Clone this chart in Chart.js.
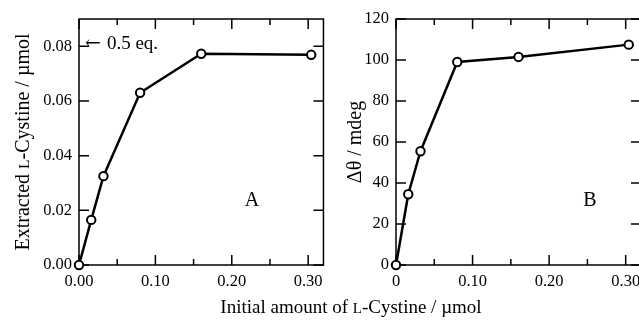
<!DOCTYPE html>
<html>
<head>
<meta charset="utf-8">
<script src="https://cdn.jsdelivr.net/npm/chart.js@4"></script>
<style>
  html, body { margin: 0; padding: 0; background: #fff; overflow: hidden; }
  body { width: 639px; height: 320px; position: relative; }
  .panel { position: absolute; top: 0; height: 320px; }
  #panelA { left: 0; width: 330px; }
  #panelB { left: 330px; width: 320px; }
  #xTitle {
    position: absolute; left: 0; width: 702px; top: 296px;
    text-align: center; font: 19px "Liberation Serif", serif; color: #000; white-space: nowrap;
  }
  .sc { font-size: 15px; }
</style>
</head>
<body>
<div class="panel" id="panelA"><canvas id="chartA"></canvas></div>
<div class="panel" id="panelB"><canvas id="chartB"></canvas></div>
<div id="xTitle">Initial amount of <span class="sc">L</span>-Cystine / µmol</div>
<script>
// shared x axis
const X_MAX = 0.32;
const X_TICKS = [0, 0.1, 0.2, 0.3];
const X_MINOR = [0.05, 0.15, 0.25];
const A_X_LABELS = ["0.00", "0.10", "0.20", "0.30"];
const B_X_LABELS = ["0", "0.10", "0.20", "0.30"];

// panel A - extracted L-cystine
const A_X = [0, 0.016, 0.032, 0.08, 0.16, 0.304];
const A_Y = [0, 0.0165, 0.0325, 0.063, 0.0773, 0.0769];
const A_Y_MAX = 0.09;
const A_Y_TICKS = [0, 0.02, 0.04, 0.06, 0.08];
const A_Y_LABELS = ["0.00", "0.02", "0.04", "0.06", "0.08"];

// panel B - CD signal
const B_X = [0, 0.016, 0.032, 0.08, 0.16, 0.304];
const B_Y = [0, 34.5, 55.5, 99, 101.5, 107.5];
const B_Y_MAX = 120;
const B_Y_TICKS = [0, 20, 40, 60, 80, 100, 120];
const B_Y_LABELS = ["0", "20", "40", "60", "80", "100", "120"];

const SERIF = '"Liberation Serif", "Times New Roman", serif';

function drawRotated(ctx, pieces, bx, cy) {
  ctx.save();
  let total = 0;
  pieces.forEach(p => {
    ctx.font = p.size + 'px ' + SERIF;
    p.w = ctx.measureText(p.text).width;
    total += p.w;
  });
  ctx.translate(bx, cy);
  ctx.rotate(-Math.PI / 2);
  ctx.fillStyle = '#000';
  ctx.textBaseline = 'alphabetic';
  ctx.textAlign = 'left';
  let u = -total / 2;
  pieces.forEach(p => {
    ctx.font = p.size + 'px ' + SERIF;
    ctx.fillText(p.text, u, 0);
    u += p.w;
  });
  ctx.restore();
}

const framePlugin = {
  id: 'frame',
  beforeDatasetsDraw(chart) {
    const { ctx, chartArea: a, scales: { x, y } } = chart;
    const opts = chart.options.plugins.frame;
    ctx.save();
    ctx.strokeStyle = '#000';
    ctx.lineWidth = 1.5;
    ctx.strokeRect(a.left, a.top, a.right - a.left, a.bottom - a.top);
    ctx.beginPath();
    X_TICKS.forEach(v => {
      const px = x.getPixelForValue(v);
      ctx.moveTo(px, a.bottom); ctx.lineTo(px, a.bottom - 10);
      ctx.moveTo(px, a.top); ctx.lineTo(px, a.top + 10);
    });
    X_MINOR.forEach(v => {
      const px = x.getPixelForValue(v);
      ctx.moveTo(px, a.bottom); ctx.lineTo(px, a.bottom - 6);
      ctx.moveTo(px, a.top); ctx.lineTo(px, a.top + 6);
    });
    opts.yTicks.forEach(v => {
      const py = y.getPixelForValue(v);
      ctx.moveTo(a.left, py); ctx.lineTo(a.left + 10, py);
      ctx.moveTo(a.right, py); ctx.lineTo(a.right - 10, py);
    });
    ctx.stroke();
    ctx.restore();
  },
  afterDraw(chart) {
    const { ctx, chartArea: a, scales: { y } } = chart;
    const opts = chart.options.plugins.frame;
    drawRotated(ctx, opts.title, opts.titleX, (a.top + a.bottom) / 2);
    ctx.save();
    ctx.fillStyle = '#000';
    ctx.font = '20px ' + SERIF;
    ctx.textAlign = 'center';
    ctx.textBaseline = 'alphabetic';
    ctx.fillText(opts.letter, opts.letterX, 206);
    if (opts.note) {
      const ny = y.getPixelForValue(0.08) - 2;
      ctx.textAlign = 'left';
      ctx.textBaseline = 'middle';
      ctx.font = '19px "DejaVu Serif", serif';
      ctx.fillText('←', a.left + 6, ny);
      const aw = ctx.measureText('←').width;
      ctx.font = '19px ' + SERIF;
      ctx.fillText(opts.note, a.left + 12 + aw, ny);
    }
    ctx.restore();
  }
};

function makeChart(id, xs, ys, yMax, yTicks, yLabels, xLabels, axisWidth, padRight, frame) {
  const tickFont = { family: SERIF, size: 16.5 };
  return new Chart(document.getElementById(id), {
    type: 'line',
    data: {
      datasets: [{
        data: xs.map((v, i) => ({ x: v, y: ys[i] })),
        borderColor: '#000',
        borderWidth: 2.5,
        pointRadius: 4.2,
        pointBorderWidth: 2,
        pointBackgroundColor: '#fff',
        pointBorderColor: '#000',
        tension: 0,
        clip: false
      }]
    },
    options: {
      responsive: true,
      maintainAspectRatio: false,
      animation: false,
      layout: { padding: { top: 19, right: padRight, left: 0, bottom: 0 } },
      plugins: { legend: { display: false }, tooltip: { enabled: false }, frame },
      scales: {
        x: {
          type: 'linear', min: 0, max: X_MAX,
          grid: { display: false, drawTicks: false },
          border: { display: false },
          afterBuildTicks: s => { s.ticks = X_TICKS.map(v => ({ value: v })); },
          afterFit: s => { s.height = 55; },
          ticks: {
            autoSkip: false, maxRotation: 0, padding: 7, color: '#000', font: tickFont,
            callback: (v, i) => xLabels[i]
          }
        },
        y: {
          type: 'linear', min: 0, max: yMax,
          grid: { display: false, drawTicks: false },
          border: { display: false },
          afterBuildTicks: s => { s.ticks = yTicks.map(v => ({ value: v })); },
          afterFit: s => { s.width = axisWidth; },
          ticks: {
            autoSkip: false, padding: 7, color: '#000', font: tickFont,
            callback: (v, i) => yLabels[i]
          }
        }
      }
    },
    plugins: [framePlugin]
  });
}

makeChart('chartA', A_X, A_Y, A_Y_MAX, A_Y_TICKS, A_Y_LABELS, A_X_LABELS, 79, 5, {
  yTicks: A_Y_TICKS,
  title: [
    { text: 'Extracted ', size: 20 },
    { text: 'L', size: 15.5 },
    { text: '-Cystine / µmol', size: 20 }
  ],
  titleX: 29,
  letter: 'A',
  letterX: 252,
  note: '0.5 eq.'
});

makeChart('chartB', B_X, B_Y, B_Y_MAX, B_Y_TICKS, B_Y_LABELS, B_X_LABELS, 66, 9, {
  yTicks: B_Y_TICKS,
  title: [{ text: 'Δθ / mdeg', size: 20 }],
  titleX: 31,
  letter: 'B',
  letterX: 260,
  note: null
});
</script>
</body>
</html>
